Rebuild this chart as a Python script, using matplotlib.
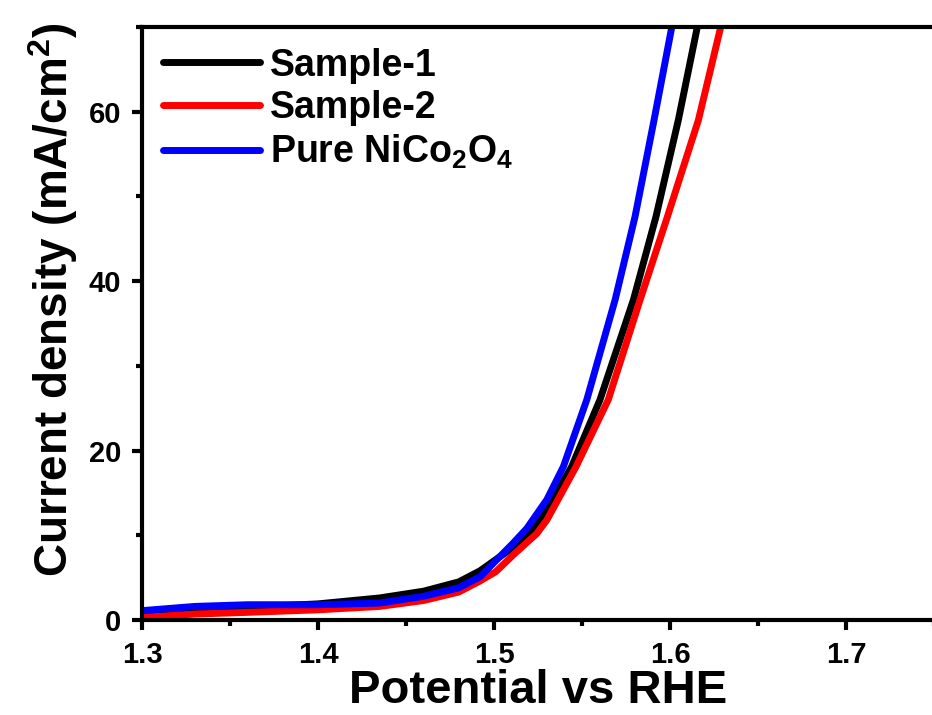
import numpy as np
from matplotlib import pyplot as plt
from matplotlib.ticker import MultipleLocator

plt.rcParams["font.family"] = ["Liberation Sans", "DejaVu Sans"]
plt.rcParams["font.weight"] = "bold"
plt.rcParams["mathtext.default"] = "regular"

# values (potential in V vs RHE, current density in mA/cm2)
v_sample1 = [1.30, 1.33, 1.36, 1.40, 1.435, 1.46, 1.48, 1.492, 1.511, 1.5214, 1.530, 1.5441, 1.5602,
             1.5792, 1.5920, 1.6047, 1.6155]
j_sample1 = [0.8, 1.3, 1.5, 1.9, 2.6, 3.4, 4.5, 5.8, 8.6, 10.4, 13.0, 18.1, 26.0,
             37.8, 47.6, 59.0, 70.0]

v_sample2 = [1.30, 1.33, 1.36, 1.40, 1.435, 1.46, 1.48, 1.492, 1.501, 1.511, 1.5243, 1.530, 1.5466, 1.5649,
             1.5830, 1.5985, 1.6161, 1.6288]
j_sample2 = [0.3, 0.7, 0.9, 1.2, 1.6, 2.3, 3.3, 4.6, 5.7, 7.7, 10.2, 11.8, 18.1, 26.0,
             37.8, 47.6, 59.0, 70.0]

v_pure = [1.30, 1.33, 1.36, 1.40, 1.435, 1.46, 1.48, 1.492, 1.511, 1.5186, 1.530, 1.5394, 1.5527,
          1.5688, 1.5801, 1.5909, 1.6010]
j_pure = [1.1, 1.6, 1.8, 1.8, 2.0, 2.8, 3.8, 5.1, 9.1, 10.8, 14.2, 18.1, 26.0,
          37.8, 47.6, 59.0, 70.0]

labels = ["Sample-1", "Sample-2", "Pure NiCo$_2$O$_4$"]
colors = ["#000000", "#ff0000", "#0000ff"]

fig = plt.figure(figsize=(9.32, 7.15), dpi=100)
ax = fig.add_axes([0.1524, 0.1329, 0.8498, 0.8294])

for v, j, lab, col in zip([v_sample1, v_sample2, v_pure], [j_sample1, j_sample2, j_pure], labels, colors):
    ax.plot(v, j, color=col, lw=5, label=lab, solid_capstyle="round", solid_joinstyle="round")

ax.set_xlim(1.3, 1.75)
ax.set_ylim(0, 70)
ax.xaxis.set_major_locator(MultipleLocator(0.1))
ax.xaxis.set_minor_locator(MultipleLocator(0.05))
ax.yaxis.set_major_locator(MultipleLocator(20))
ax.yaxis.set_minor_locator(MultipleLocator(10))

for side in ["left", "bottom", "top", "right"]:
    ax.spines[side].set_linewidth(3)
ax.tick_params(which="major", direction="out", length=7, width=3, labelsize=21, pad=8)
ax.tick_params(which="minor", direction="out", length=4, width=3)
ax.tick_params(axis="x", which="both", top=False)

ax.set_xlabel("Potential vs RHE", fontsize=34, fontweight="bold", labelpad=0)
ax.set_ylabel("Current density (mA/cm$^2$)", fontsize=33, fontweight="bold")
ax.yaxis.set_label_coords(-0.078, 0.54)

ax.legend(loc="upper left", frameon=False, fontsize=27, handlelength=2.6,
          handletextpad=0.27, labelspacing=0.18, borderaxespad=0.25, borderpad=0.3)

plt.savefig("out.png", dpi=100)
plt.close(fig)
